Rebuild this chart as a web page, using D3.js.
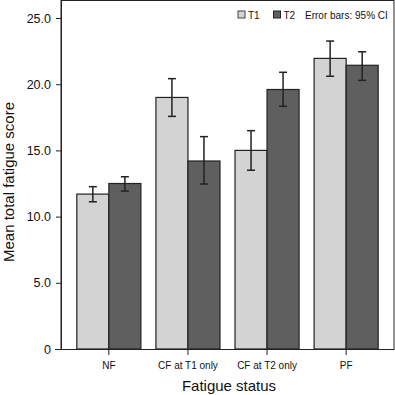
<!DOCTYPE html>
<html><head><meta charset="utf-8">
<script src="https://cdn.jsdelivr.net/npm/d3@7"></script>
<style>body{margin:0;background:#fff}svg{display:block}text{font-family:"Liberation Sans",Arial,sans-serif;fill:#111}</style>
</head><body><svg id="c" width="395" height="395"></svg>
<script>
const categories = ["NF","CF at T1 only","CF at T2 only","PF"];
const seriesNames = ["T1","T2"];
const t1Mean = [11.7, 19.0, 15.0, 21.95];
const t1Low  = [11.12, 17.57, 13.5, 20.6];
const t1High = [12.26, 20.42, 16.49, 23.26];
const t2Mean = [12.5, 14.2, 19.6, 21.43];
const t2Low  = [11.93, 12.46, 18.33, 20.29];
const t2High = [13.01, 16.04, 20.9, 22.45];
const yTicks = [0,5,10,15,20,25];
const colors = ["#d3d3d3","#5f5f5f"];

const svg = d3.select("#c");
const L=61, R=394, T=0, B=349;
const x = d3.scaleBand().domain(categories).range([L,R]).paddingInner(0.19).paddingOuter(0.2);
const xs = d3.scaleBand().domain(seriesNames).range([0,x.bandwidth()]);
const y = d3.scaleLinear().domain([0,26.36]).range([B,T]);

const data = [];
categories.forEach((c,i)=>{
  data.push({c,s:"T1",v:t1Mean[i],lo:t1Low[i],hi:t1High[i]});
  data.push({c,s:"T2",v:t2Mean[i],lo:t2Low[i],hi:t2High[i]});
});

// frame
svg.append("rect").attr("x",L).attr("y",T+0.5).attr("width",R-L).attr("height",B-T).attr("fill","none").attr("stroke","#222").attr("stroke-width",1);

svg.selectAll("rect.bar").data(data).join("rect").attr("class","bar")
  .attr("x",d=>x(d.c)+xs(d.s)).attr("width",xs.bandwidth())
  .attr("y",d=>y(d.v)).attr("height",d=>y(0)-y(d.v))
  .attr("fill",d=>colors[seriesNames.indexOf(d.s)])
  .attr("stroke","#222").attr("stroke-width",1.2);

const eg = svg.selectAll("g.err").data(data).join("g").attr("class","err")
  .attr("transform",d=>`translate(${x(d.c)+xs(d.s)+xs.bandwidth()/2},0)`);
eg.append("line").attr("y1",d=>y(d.lo)).attr("y2",d=>y(d.hi)).attr("stroke","#222").attr("stroke-width",1.5);
eg.append("line").attr("x1",-4).attr("x2",4).attr("y1",d=>y(d.lo)).attr("y2",d=>y(d.lo)).attr("stroke","#222").attr("stroke-width",1.5);
eg.append("line").attr("x1",-4).attr("x2",4).attr("y1",d=>y(d.hi)).attr("y2",d=>y(d.hi)).attr("stroke","#222").attr("stroke-width",1.5);

// y axis
const ya = svg.append("g").attr("transform",`translate(${L},0)`)
  .call(d3.axisLeft(y).tickValues(yTicks).tickSize(5).tickSizeOuter(0).tickFormat(d=>d===0?"0":d3.format(".1f")(d)));
ya.select(".domain").attr("stroke","#222");
ya.selectAll(".tick line").attr("stroke","#222");
ya.selectAll("text").attr("font-size",12.5).attr("fill","#111").attr("x",-10).style("font-family","Liberation Sans, Arial, sans-serif");

// x axis
const xa = svg.append("g").attr("transform",`translate(0,${B})`)
  .call(d3.axisBottom(x).tickSize(6).tickSizeOuter(0));
xa.select(".domain").attr("d",`M${L-6},0.5H${R}`).attr("stroke","#222");
xa.selectAll(".tick line").attr("stroke","#222");
xa.selectAll("text").attr("font-size",10).attr("fill","#111").attr("dy","1.05em").style("font-family","Liberation Sans, Arial, sans-serif");

// titles
svg.append("text").attr("x",229).attr("y",391).attr("text-anchor","middle").attr("font-size",15).text("Fatigue status");
svg.append("text").attr("transform",`translate(14,182) rotate(-90)`).attr("text-anchor","middle").attr("font-size",15).text("Mean total fatigue score");

// legend
const lg = svg.append("g").attr("transform","translate(238,11)");
lg.append("rect").attr("x",0).attr("y",0).attr("width",7).attr("height",7).attr("fill",colors[0]).attr("stroke","#444");
lg.append("text").attr("x",10).attr("y",7.5).attr("font-size",10).text(seriesNames[0]);
lg.append("rect").attr("x",35.5).attr("y",0).attr("width",7).attr("height",7).attr("fill",colors[1]).attr("stroke","#222");
lg.append("text").attr("x",45.5).attr("y",7.5).attr("font-size",10).text(seriesNames[1]);
lg.append("text").attr("x",67).attr("y",7.5).attr("font-size",10).text("Error bars: 95% CI");
</script></body></html>
